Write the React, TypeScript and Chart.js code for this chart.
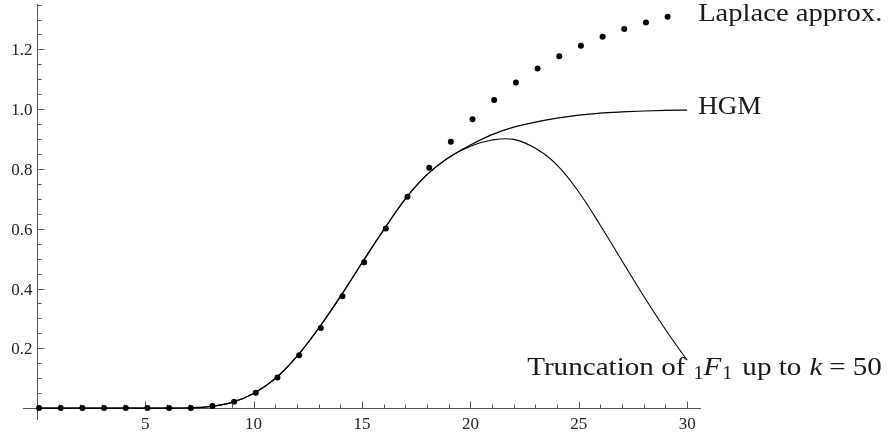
import React, { useEffect, useRef } from "react";
import { Chart, registerables } from "chart.js";

Chart.register(...registerables);

// ---- data ----
const hgmX = [0, 1, 2, 3, 4, 5, 6, 7, 8, 9, 10, 11, 12, 13, 14, 15, 16, 17, 18, 19, 20, 21, 22, 23, 24, 25, 26, 27, 28, 29, 30];
const hgmValues = [0, 0, 0, 0, 0, 0, 0, 0.001, 0.005, 0.019, 0.049, 0.099, 0.173, 0.267, 0.373, 0.486, 0.596, 0.7, 0.781, 0.838, 0.88, 0.915, 0.94, 0.957, 0.97, 0.98, 0.987, 0.991, 0.994, 0.996, 0.997];

const truncX = [0, 1, 2, 3, 4, 5, 6, 7, 8, 9, 10, 11, 12, 13, 14, 15, 16, 17, 18, 19, 20, 21, 22, 23, 24, 25, 26, 27, 28, 29, 30];
const truncValues = [0, 0, 0, 0, 0, 0, 0, 0.001, 0.005, 0.019, 0.049, 0.099, 0.173, 0.267, 0.373, 0.486, 0.596, 0.7, 0.781, 0.838, 0.876, 0.897, 0.899, 0.869, 0.813, 0.723, 0.611, 0.492, 0.374, 0.263, 0.16];

const laplaceX = [0.1, 1.1, 2.1, 3.1, 4.1, 5.1, 6.1, 7.1, 8.1, 9.1, 10.1, 11.1, 12.1, 13.1, 14.1, 15.1, 16.1, 17.1, 18.1, 19.1, 20.1, 21.1, 22.1, 23.1, 24.1, 25.1, 26.1, 27.1, 28.1, 29.1];
const laplaceValues = [0, 0, 0, 0, 0, 0, 0, 0, 0.007, 0.021, 0.051, 0.102, 0.177, 0.268, 0.374, 0.488, 0.601, 0.707, 0.804, 0.891, 0.966, 1.031, 1.089, 1.136, 1.177, 1.212, 1.242, 1.268, 1.29, 1.309];

const xTickValues = [5, 10, 15, 20, 25, 30];
const xTickLabels = ["5", "10", "15", "20", "25", "30"];
const yTickValues = [0.2, 0.4, 0.6, 0.8, 1.0, 1.2];
const yTickLabels = ["0.2", "0.4", "0.6", "0.8", "1.0", "1.2"];

const laplaceLabel = "Laplace approx.";
const hgmLabel = "HGM";

const X_MIN = -0.64;
const X_MAX = 30.64;
const Y_MIN = -0.04;
const Y_MAX = 1.352;

const TICK_FONT = '17px "Liberation Serif", "Times New Roman", serif';
const LABEL_FONT = '26px "Liberation Serif", "Times New Roman", serif';
const LABEL_ITALIC = 'italic 26px "Liberation Serif", "Times New Roman", serif';
const SUB_FONT = '18px "Liberation Serif", "Times New Roman", serif';

function drawStretched(ctx: CanvasRenderingContext2D, text: string, x: number, y: number, font: string, sx: number): number {
  ctx.save();
  ctx.font = font;
  ctx.translate(x, y);
  ctx.scale(sx, 1);
  ctx.textAlign = "left";
  ctx.textBaseline = "alphabetic";
  ctx.fillText(text, 0, 0);
  const w = ctx.measureText(text).width * sx;
  ctx.restore();
  return w;
}

const axesPlugin = {
  id: "mmaAxes",
  beforeDatasetsDraw(chart: any) {
    const { ctx, chartArea } = chart;
    const xs = chart.scales.x;
    const ys = chart.scales.y;
    const x0 = Math.round(xs.getPixelForValue(0)) + 0.5;
    const y0 = Math.round(ys.getPixelForValue(0)) + 0.5;
    ctx.save();
    ctx.strokeStyle = "#555";
    ctx.lineWidth = 1;
    ctx.beginPath();
    ctx.moveTo(chartArea.left, y0);
    ctx.lineTo(chartArea.right, y0);
    ctx.moveTo(x0, chartArea.top);
    ctx.lineTo(x0, chartArea.bottom);
    for (let v = 1; v <= 30; v++) {
      const px = Math.round(xs.getPixelForValue(v)) + 0.5;
      const len = v % 5 === 0 ? 7 : 4;
      ctx.moveTo(px, y0);
      ctx.lineTo(px, y0 - len);
    }
    for (let i = 1; i <= 27; i++) {
      const v = i * 0.05;
      const py = Math.round(ys.getPixelForValue(v)) + 0.5;
      const len = i % 4 === 0 ? 7 : 4;
      ctx.moveTo(x0, py);
      ctx.lineTo(x0 + len, py);
    }
    ctx.stroke();

    ctx.fillStyle = "#222";
    ctx.font = TICK_FONT;
    ctx.textBaseline = "alphabetic";
    ctx.textAlign = "center";
    xTickValues.forEach((v, i) => {
      ctx.fillText(xTickLabels[i], xs.getPixelForValue(v), y0 + 20);
    });
    ctx.textAlign = "right";
    yTickValues.forEach((v, i) => {
      ctx.fillText(yTickLabels[i], x0 - 5, ys.getPixelForValue(v) + 6);
    });
    ctx.restore();
  },
  afterDatasetsDraw(chart: any) {
    const { ctx } = chart;
    const xs = chart.scales.x;
    const ys = chart.scales.y;
    ctx.save();
    ctx.fillStyle = "#1a1a1a";
    const lx = xs.getPixelForValue(30) + 11;
    drawStretched(ctx, laplaceLabel, lx, ys.getPixelForValue(laplaceValues[laplaceValues.length - 1]) + 4, LABEL_FONT, 1.1);
    drawStretched(ctx, hgmLabel, lx, ys.getPixelForValue(1.0) + 5, LABEL_FONT, 1.04);

    let x = xs.getPixelForValue(30) - 160;
    const by = ys.getPixelForValue(truncValues[truncValues.length - 1]) + 15;
    const sx = 1.12;
    x += drawStretched(ctx, "Truncation of", x, by, LABEL_FONT, sx);
    x += 8;
    x += drawStretched(ctx, "1", x, by + 4, SUB_FONT, sx);
    x += drawStretched(ctx, "F", x, by, LABEL_ITALIC, sx) + 1;
    x += drawStretched(ctx, "1", x, by + 4, SUB_FONT, sx);
    x += 10;
    x += drawStretched(ctx, "up to", x, by, LABEL_FONT, sx);
    x += 8;
    x += drawStretched(ctx, "k", x, by, LABEL_ITALIC, sx);
    x += 7;
    x += drawStretched(ctx, "=", x, by, LABEL_FONT, sx);
    x += 7;
    drawStretched(ctx, "50", x, by, LABEL_FONT, sx);
    ctx.restore();
  },
};

export default function App() {
  const canvasRef = useRef<HTMLCanvasElement | null>(null);

  useEffect(() => {
    const canvas = canvasRef.current;
    if (!canvas) return;
    const chart = new Chart(canvas, {
      type: "line",
      data: {
        datasets: [
          {
            label: "HGM",
            data: hgmX.map((x, i) => ({ x, y: hgmValues[i] })),
            borderColor: "#000",
            borderWidth: 1.2,
            pointRadius: 0,
            cubicInterpolationMode: "monotone",
            fill: false,
          },
          {
            label: "Truncation of 1F1 up to k = 50",
            data: truncX.map((x, i) => ({ x, y: truncValues[i] })),
            borderColor: "#000",
            borderWidth: 1.1,
            pointRadius: 0,
            tension: 0.4,
            fill: false,
          },
          {
            label: "Laplace approx.",
            data: laplaceX.map((x, i) => ({ x, y: laplaceValues[i] })),
            showLine: false,
            pointRadius: 3,
            pointBorderWidth: 0,
            pointBackgroundColor: "#000",
            borderColor: "#000",
          },
        ],
      },
      options: {
        animation: false,
        responsive: true,
        maintainAspectRatio: false,
        events: [],
        layout: { padding: { left: 23, right: 192, top: 3, bottom: 15 } },
        scales: {
          x: { type: "linear", min: X_MIN, max: X_MAX, display: false },
          y: { type: "linear", min: Y_MIN, max: Y_MAX, display: false },
        },
        plugins: {
          legend: { display: false },
          tooltip: { enabled: false },
        },
      },
      plugins: [axesPlugin],
    } as any);
    return () => chart.destroy();
  }, []);

  return (
    <div style={{ position: "absolute", left: 0, top: 0, width: 893, height: 435, background: "#fff" }}>
      <canvas ref={canvasRef} style={{ display: "block" }} />
    </div>
  );
}
